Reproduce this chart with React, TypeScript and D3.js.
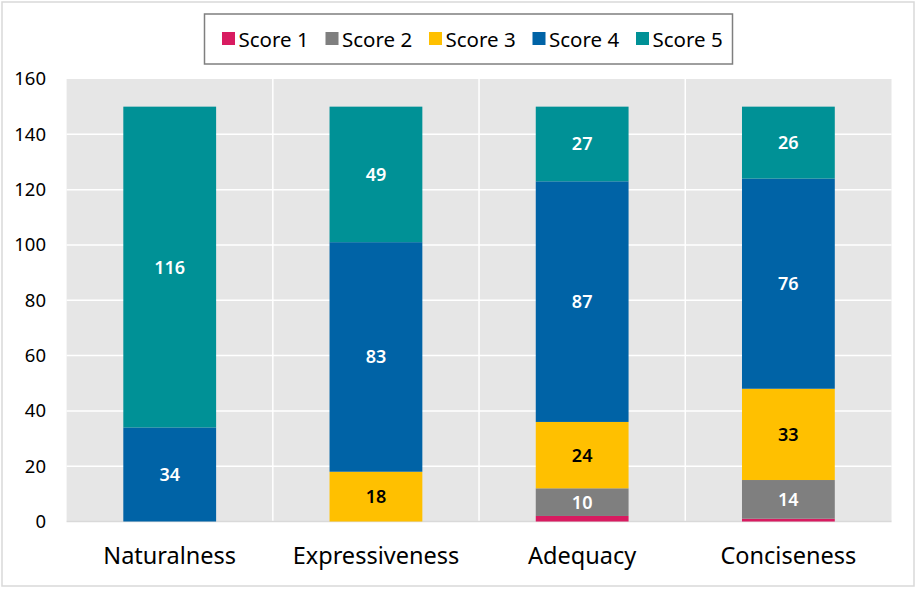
import React, { useEffect, useRef } from 'react';
import * as d3 from 'd3';

const categories = ['Naturalness', 'Expressiveness', 'Adequacy', 'Conciseness'];
const seriesNames = ['Score 1', 'Score 2', 'Score 3', 'Score 4', 'Score 5'];
const score1 = [0, 0, 2, 1];
const score2 = [0, 0, 10, 14];
const score3 = [0, 18, 24, 33];
const score4 = [34, 83, 87, 76];
const score5 = [116, 49, 27, 26];
const yTicks = [0, 20, 40, 60, 80, 100, 120, 140, 160];

const colors = ['#D81B60', '#7F7F7F', '#FFC000', '#0063A6', '#009196'];
const labelColors = ['#fff', '#fff', '#000', '#fff', '#fff'];

const App: React.FC = () => {
  const svgRef = useRef<SVGSVGElement>(null);

  useEffect(() => {
    document.body.style.margin = '0';
    if (!svgRef.current) return;
    const svg = d3.select(svgRef.current);
    svg.selectAll('*').remove();

    const width = 916;
    const height = 589;
    const plot = { left: 66.6, right: 891.5, top: 79, bottom: 521.5 };
    const font = '"Noto Sans", "Open Sans", sans-serif';

    // chart frame
    svg.append('rect')
      .attr('x', 2).attr('y', 2)
      .attr('width', width - 4).attr('height', height - 5)
      .attr('fill', '#fff')
      .attr('stroke', '#D9D9D9')
      .attr('stroke-width', 1.5);

    const rows = categories.map((c, i) => ({
      category: c,
      'Score 1': score1[i],
      'Score 2': score2[i],
      'Score 3': score3[i],
      'Score 4': score4[i],
      'Score 5': score5[i],
    }));

    const x = d3.scaleBand<string>()
      .domain(categories)
      .range([plot.left, plot.right])
      .paddingInner(0.55)
      .paddingOuter(0.275);

    const step = (plot.right - plot.left) / categories.length;

    const y = d3.scaleLinear()
      .domain([0, 160])
      .range([plot.bottom, plot.top]);

    // plot background
    svg.append('rect')
      .attr('x', plot.left).attr('y', plot.top)
      .attr('width', plot.right - plot.left)
      .attr('height', plot.bottom - plot.top)
      .attr('fill', '#E6E6E6');

    // horizontal gridlines
    svg.append('g')
      .selectAll('line')
      .data(yTicks.filter(t => t > 0 && t < 160))
      .join('line')
      .attr('x1', plot.left).attr('x2', plot.right)
      .attr('y1', d => y(d)).attr('y2', d => y(d))
      .attr('stroke', '#fff')
      .attr('stroke-width', 1.5);

    // vertical separators between categories
    svg.append('g')
      .selectAll('line')
      .data(d3.range(1, categories.length))
      .join('line')
      .attr('x1', i => plot.left + i * step).attr('x2', i => plot.left + i * step)
      .attr('y1', plot.top).attr('y2', plot.bottom)
      .attr('stroke', '#fff')
      .attr('stroke-width', 1.5);

    // axis baseline
    svg.append('line')
      .attr('x1', plot.left).attr('x2', plot.right)
      .attr('y1', plot.bottom).attr('y2', plot.bottom)
      .attr('stroke', '#D9D9D9')
      .attr('stroke-width', 1.5);

    // y tick labels
    svg.append('g')
      .selectAll('text')
      .data(yTicks)
      .join('text')
      .attr('x', 46)
      .attr('y', d => y(d))
      .attr('dy', '0.35em')
      .attr('text-anchor', 'end')
      .style('font-family', font)
      .style('font-size', '18.5px')
      .style('fill', '#000')
      .text(d => d);

    // stacked bars
    const stack = d3.stack<any>().keys(seriesNames);
    const layers = stack(rows);

    const groups = svg.append('g')
      .selectAll('g')
      .data(layers)
      .join('g')
      .attr('fill', (d, i) => colors[i]);

    groups.selectAll('rect')
      .data(d => d)
      .join('rect')
      .attr('x', d => x(d.data.category)!)
      .attr('width', x.bandwidth())
      .attr('y', d => y(d[1]))
      .attr('height', d => y(d[0]) - y(d[1]));

    // value labels
    layers.forEach((layer, li) => {
      svg.append('g')
        .selectAll('text')
        .data(layer.filter(d => d[1] - d[0] >= 5))
        .join('text')
        .attr('x', d => x(d.data.category)! + x.bandwidth() / 2)
        .attr('y', d => y((d[0] + d[1]) / 2))
        .attr('dy', '0.36em')
        .attr('text-anchor', 'middle')
        .style('font-family', font)
        .style('font-size', '18px')
        .style('font-weight', '600')
        .style('fill', labelColors[li])
        .text(d => d[1] - d[0]);
    });

    // category labels
    svg.append('g')
      .selectAll('text')
      .data(categories)
      .join('text')
      .attr('x', d => x(d)! + x.bandwidth() / 2)
      .attr('y', 564)
      .attr('text-anchor', 'middle')
      .style('font-family', font)
      .style('font-size', '23.5px')
      .style('fill', '#000')
      .text(d => d);

    // legend
    svg.append('rect')
      .attr('x', 204.5).attr('y', 14)
      .attr('width', 528).attr('height', 50)
      .attr('fill', '#fff')
      .attr('stroke', '#7F7F7F')
      .attr('stroke-width', 1.5);

    const legend = svg.append('g')
      .selectAll('g')
      .data(seriesNames)
      .join('g')
      .attr('transform', (d, i) => `translate(${222 + i * 103.5}, 0)`);

    legend.append('rect')
      .attr('x', 0).attr('y', 32)
      .attr('width', 13).attr('height', 13)
      .attr('fill', (d, i) => colors[i]);

    legend.append('text')
      .attr('x', 16.5)
      .attr('y', 46.5)
      .style('font-family', font)
      .style('font-size', '20.5px')
      .style('fill', '#000')
      .text(d => d);
  }, []);

  return <svg ref={svgRef} width={916} height={589} style={{ display: 'block' }} />;
};

export default App;
